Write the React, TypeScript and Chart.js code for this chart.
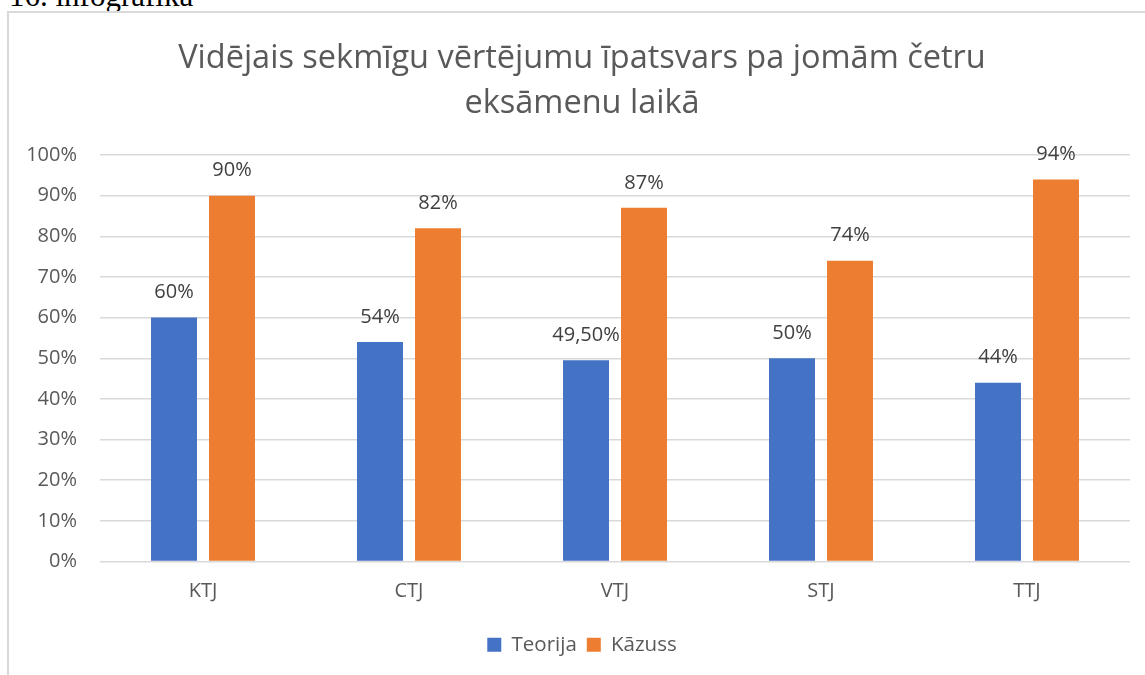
import React, { useEffect, useRef } from "react";
import { Chart, registerables } from "chart.js";

Chart.register(...registerables);

const categories = ["KTJ", "CTJ", "VTJ", "STJ", "TTJ"];
const seriesNames = ["Teorija", "Kāzuss"];
const teorija = [60, 54, 49.5, 50, 44];
const kazuss = [90, 82, 87, 74, 94];
const teorijaLabels = ["60%", "54%", "49,50%", "50%", "44%"];
const kazussLabels = ["90%", "82%", "87%", "74%", "94%"];
const titleLines = ["Vidējais sekmīgu vērtējumu īpatsvars pa jomām četru", "eksāmenu laikā"];
const pageHeading = "16. infografika";

const FONT = "'Open Sans', sans-serif";
const BLUE = "#4472C4";
const ORANGE = "#ED7D31";

const barLabelPlugin = {
  id: "barLabels",
  afterDatasetsDraw(chart: any) {
    const ctx = chart.ctx;
    const labelSets = [teorijaLabels, kazussLabels];
    ctx.save();
    ctx.font = `20px ${FONT}`;
    ctx.fillStyle = "#404040";
    ctx.textAlign = "center";
    ctx.textBaseline = "middle";
    chart.data.datasets.forEach((ds: any, di: number) => {
      const meta = chart.getDatasetMeta(di);
      meta.data.forEach((el: any, i: number) => {
        ctx.fillText(labelSets[di][i], el.x, el.y - 25);
      });
    });
    ctx.restore();
  },
};

export default function App() {
  const ref = useRef<HTMLCanvasElement | null>(null);

  useEffect(() => {
    document.body.style.overflow = "hidden";
    const canvas = ref.current!;
    const chart = new Chart(canvas, {
      type: "bar",
      data: {
        labels: categories,
        datasets: [
          {
            label: seriesNames[0],
            data: teorija,
            backgroundColor: BLUE,
            categoryPercentage: 0.563,
            barPercentage: 0.793,
          },
          {
            label: seriesNames[1],
            data: kazuss,
            backgroundColor: ORANGE,
            categoryPercentage: 0.563,
            barPercentage: 0.793,
          },
        ],
      },
      options: {
        animation: false,
        responsive: false,
        maintainAspectRatio: false,
        layout: { padding: { left: 0, right: 0, top: 0, bottom: 8 } },
        plugins: {
          title: {
            display: true,
            text: titleLines,
            color: "#595959",
            font: { family: FONT, size: 32.5, weight: "normal", lineHeight: 1.385 },
            padding: { top: 23, bottom: 29 },
          },
          legend: {
            display: true,
            position: "bottom",
            labels: {
              boxWidth: 14,
              boxHeight: 14,
              padding: 10,
              color: "#595959",
              font: { family: FONT, size: 20.5 },
            },
          },
          tooltip: { enabled: false },
        },
        scales: {
          x: {
            grid: { display: false },
            border: { display: false },
            ticks: {
              color: "#595959",
              font: { family: FONT, size: 20 },
              padding: 10,
            },
            afterFit: (s: any) => {
              s.height = 63;
            },
          },
          y: {
            min: 0,
            max: 100,
            ticks: {
              stepSize: 10,
              color: "#595959",
              font: { family: FONT, size: 20 },
              padding: 23,
              callback: (v: any) => `${v}%`,
            },
            grid: { color: "#d9d9d9", lineWidth: 1.5, drawTicks: false },
            border: { display: false },
            afterFit: (s: any) => {
              s.width = 91;
            },
          },
          yRight: {
            position: "right",
            display: true,
            grid: { display: false },
            border: { display: false },
            ticks: { display: false },
            afterFit: (s: any) => {
              s.width = 25;
            },
          },
        },
      },
      plugins: [barLabelPlugin],
    } as any);
    return () => chart.destroy();
  }, []);

  return (
    <div
      style={{
        position: "fixed",
        left: 0,
        top: 0,
        width: 1145,
        height: 675,
        overflow: "hidden",
        background: "#fff",
      }}
    >
      <div
        style={{
          position: "absolute",
          left: 9,
          top: -20,
          fontFamily: "'Liberation Serif', 'Times New Roman', serif",
          fontSize: 31,
          lineHeight: "31px",
          color: "#000",
          whiteSpace: "nowrap",
        }}
      >
        {pageHeading}
      </div>
      <div
        style={{
          position: "absolute",
          left: 7,
          top: 11,
          width: 1200,
          height: 700,
          borderLeft: "2px solid #d9d9d9",
          borderTop: "2px solid #d9d9d9",
        }}
      />
      <canvas
        ref={ref}
        width={1146}
        height={660}
        style={{ position: "absolute", left: 9, top: 13, width: 1146, height: 660 }}
      />
    </div>
  );
}
